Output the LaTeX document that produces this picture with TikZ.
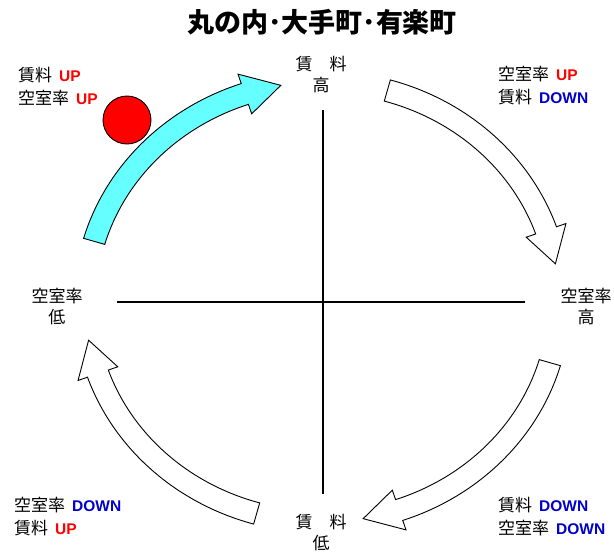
\documentclass[tikz,border=0pt]{standalone}
\usepackage{fontspec}
\setmainfont{Liberation Sans}
\newfontfamily\jp{Noto Sans CJK JP}
\usetikzlibrary{positioning}
\definecolor{upred}{HTML}{FF0000}
\definecolor{downblue}{HTML}{0000CC}
\definecolor{riseblue}{HTML}{66FFFF}
\newcommand{\latinsize}{\fontsize{15.5}{23}\selectfont}
\newcommand{\upmark}{\hspace{7pt}{\rmfamily\bfseries\latinsize\color{upred}UP}}
\newcommand{\downmark}{\hspace{7pt}{\rmfamily\bfseries\latinsize\color{downblue}DOWN}}
\newcommand{\ctrx}{322}
\newcommand{\ctry}{302}
\tikzstyle{heading} = [font=\jp\bfseries\fontsize{27}{30}\selectfont]
\tikzstyle{axislabel} = [font=\jp\fontsize{17}{21}\selectfont, align=center]
\tikzstyle{note} = [font=\jp\fontsize{17}{23}\selectfont, align=left, anchor=west, inner sep=0pt]
\tikzstyle{axisline} = [line width=1.5pt]
\tikzstyle{bodyline} = [draw=black, line width=0.9pt, line join=miter]

% curved block arrow on the cycle: fill, start, head base, tip (angles)
\newcommand{\cyclearrow}[4]{
	\draw [bodyline, fill=#1] ({\ctrx+226*cos(#2)},{\ctry+209*sin(#2)})
		arc [start angle=#2, end angle=#3, x radius=226, y radius=209]
		-- ({\ctrx+216*cos(#3)},{\ctry+199*sin(#3)})
		-- ({\ctrx+237*cos(#4)},{\ctry+220*sin(#4)})
		-- ({\ctrx+258*cos(#3)},{\ctry+241*sin(#3)})
		-- ({\ctrx+248*cos(#3)},{\ctry+231*sin(#3)})
		arc [start angle=#3, end angle=#2, x radius=248, y radius=231]
		-- cycle;
}

\begin{document}
\begin{tikzpicture}[x=1pt, y=-1pt]

		\useasboundingbox (0,0) rectangle (614,552);

		\node (title) [heading] at (322,22) {丸の内･大手町･有楽町};

		% axes
		\coordinate (v_top) at (323,110);
		\coordinate (v_bot) at (323,494);
		\coordinate (h_left) at (117,302);
		\coordinate (h_right) at (525,302);
		\draw [axisline] (v_top) -- (v_bot);
		\draw [axisline] (h_left) -- (h_right);

		\node (rent_high) [axislabel] at (321,75) {賃　料\\高};
		\node (vac_high) [axislabel] at (586,307) {空室率\\高};
		\node (vac_low) [axislabel] at (57,307) {空室率\\低};
		\node (rent_low) [axislabel] at (321,533) {賃　料\\低};

		% the four phases
		\cyclearrow{riseblue}{196}{251}{260}
		\cyclearrow{white}{286}{341}{350}
		\cyclearrow{white}{16}{71}{80}
		\cyclearrow{white}{106}{161}{170}

		\draw [bodyline, fill=upred] (127,120) circle [radius=24];

		\node (tl_note) [note] at (18,87) {賃料\upmark\\空室率\upmark};
		\node (tr_note) [note] at (498,86) {空室率\upmark\\賃料\downmark};
		\node (br_note) [note] at (498,517) {賃料\downmark\\空室率\downmark};
		\node (bl_note) [note] at (14,517) {空室率\downmark\\賃料\upmark};

	\end{tikzpicture}
\end{document}
